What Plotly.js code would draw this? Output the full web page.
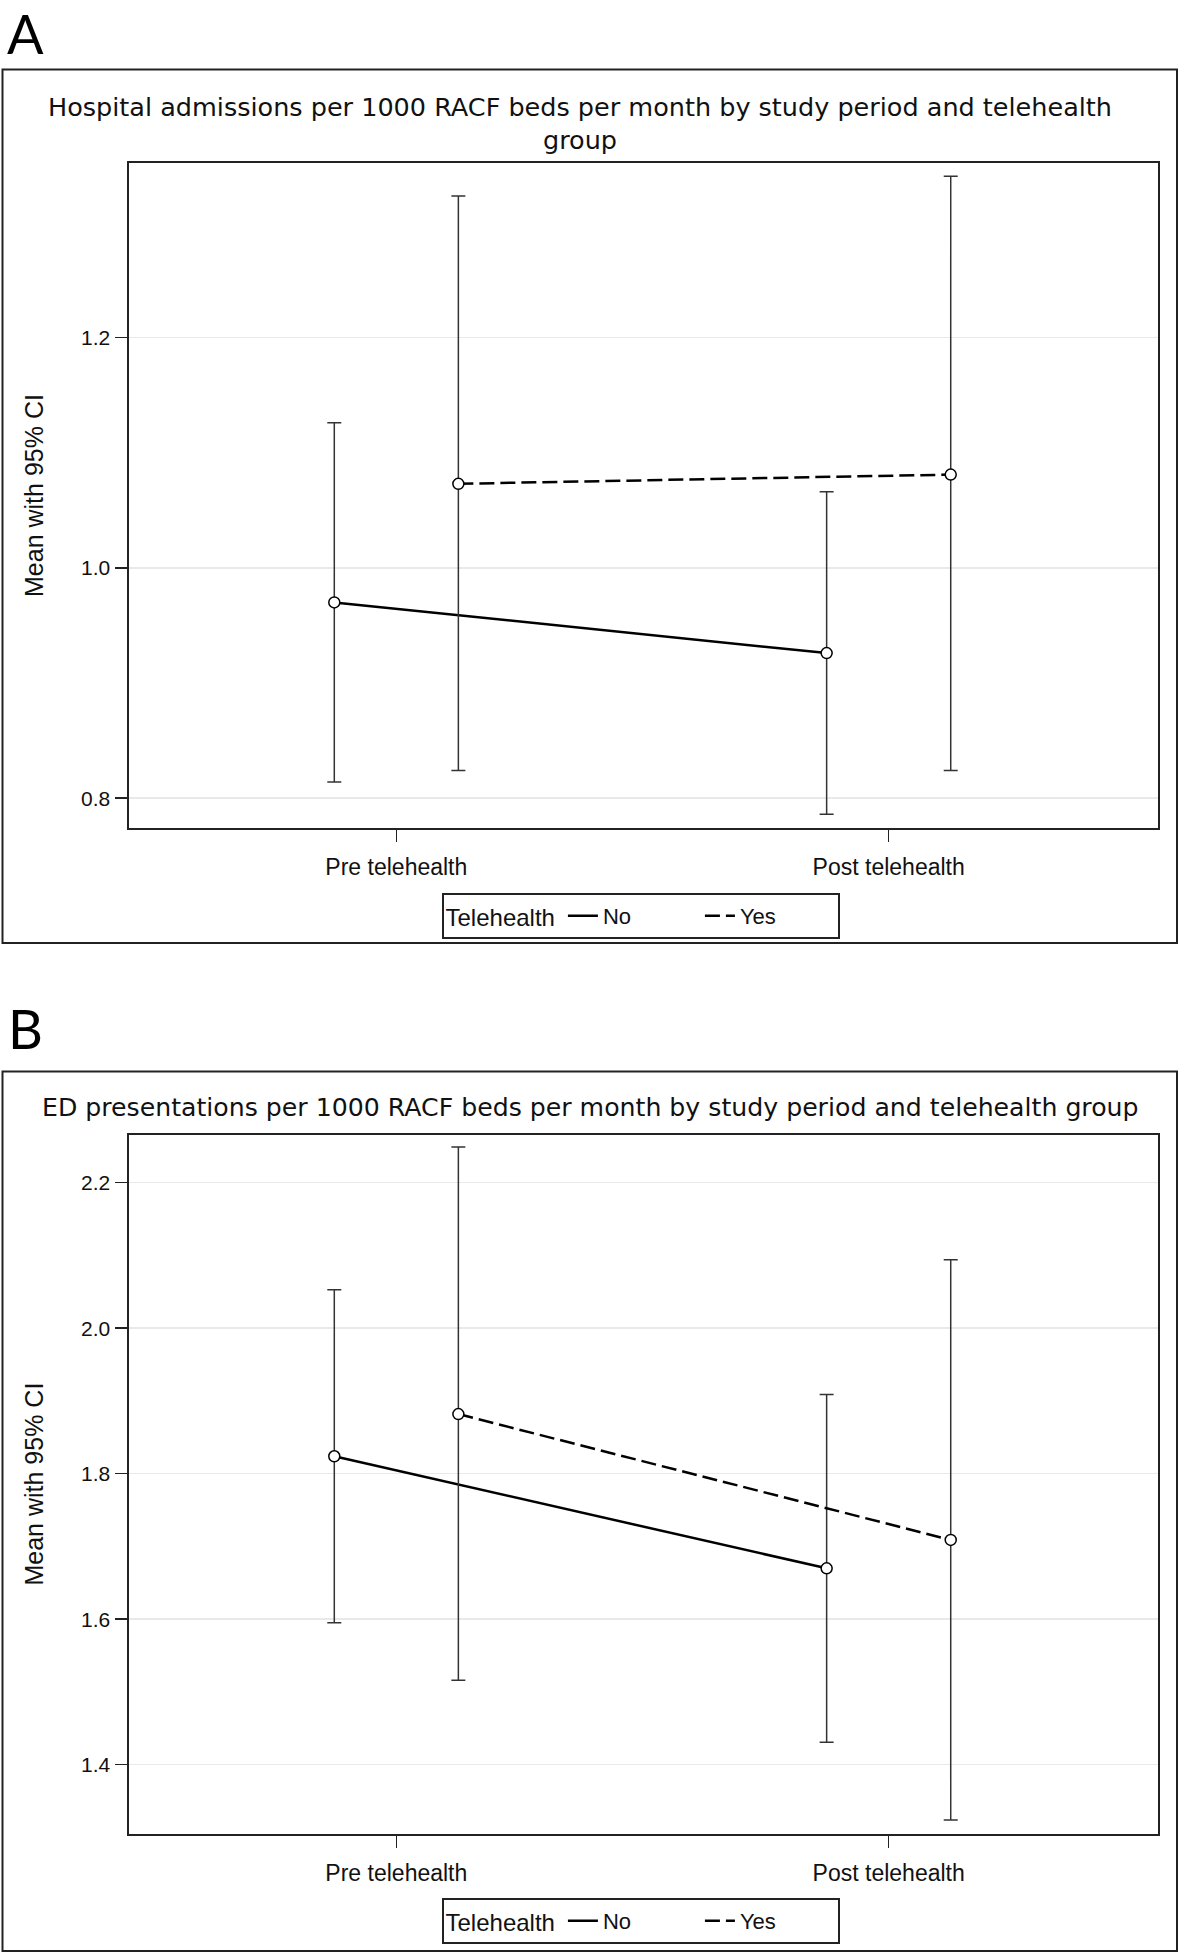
<!DOCTYPE html>
<html><head><meta charset="utf-8">
<script src="https://cdn.plot.ly/plotly-3.0.1.min.js"></script>
<style>html,body{margin:0;padding:0;background:#fff}#chart{width:1180px;height:1956px}</style>
</head><body><div id="chart"></div>
<script>
// ---- data ----
const categories = ['Pre telehealth', 'Post telehealth'];
const groupNames = ['No', 'Yes'];
const legendTitle = 'Telehealth';
const yAxisTitle = 'Mean with 95% CI';
const titleA = 'Hospital admissions per 1000 RACF beds per month by study period and telehealth<br>group';
const titleB = 'ED presentations per 1000 RACF beds per month by study period and telehealth group';
const panelLabels = ['A', 'B'];

// Panel A: hospital admissions
const admNoMean  = [0.970, 0.926];
const admNoLower = [0.814, 0.786];
const admNoUpper = [1.126, 1.066];
const admYesMean  = [1.073, 1.081];
const admYesLower = [0.824, 0.824];
const admYesUpper = [1.323, 1.340];

// Panel B: ED presentations
const edNoMean  = [1.824, 1.670];
const edNoLower = [1.595, 1.431];
const edNoUpper = [2.053, 1.909];
const edYesMean  = [1.882, 1.709];
const edYesLower = [1.516, 1.324];
const edYesUpper = [2.249, 2.094];

// ---- layout helpers ----
const W = 1180, H = 1956;
const px = x => x / W;
const py = y => 1 - y / H;
const dodge = 0.126;
const ink = '#222';
const sans = 'Liberation Sans, Arial, sans-serif';
const wide = 'DejaVu Sans, sans-serif';
const dashed = '15px,6px';

function xPos(sign) { return categories.map((c, i) => i + sign * dodge); }

// line trace (shown in legend) + marker/error-bar trace (hidden from legend)
function makeTraces(mean, lo, hi, sign, name, dash, xa, ya, leg) {
  const lineTrace = {
    type: 'scatter', mode: 'lines', x: xPos(sign), y: mean, name: name,
    xaxis: xa, yaxis: ya, legend: leg, showlegend: true,
    line: {color: '#000', width: 2.5, dash: dash}, hoverinfo: 'skip'
  };
  const pointTrace = {
    type: 'scatter', mode: 'markers', x: xPos(sign), y: mean, name: name,
    xaxis: xa, yaxis: ya, legend: leg, showlegend: false,
    marker: {symbol: 'circle', size: 11, color: '#fff', line: {color: '#000', width: 1.5}},
    error_y: {type: 'data', symmetric: false,
      array: hi.map((v, i) => v - mean[i]),
      arrayminus: lo.map((v, i) => mean[i] - v),
      color: '#333', thickness: 1.5, width: 7},
    hoverinfo: 'skip'
  };
  return [lineTrace, pointTrace];
}

const data = [].concat(
  makeTraces(admNoMean, admNoLower, admNoUpper, -1, groupNames[0], 'solid', 'x', 'y', 'legend'),
  makeTraces(admYesMean, admYesLower, admYesUpper, 1, groupNames[1], dashed, 'x', 'y', 'legend'),
  makeTraces(edNoMean, edNoLower, edNoUpper, -1, groupNames[0], 'solid', 'x2', 'y2', 'legend2'),
  makeTraces(edYesMean, edYesLower, edYesUpper, 1, groupNames[1], dashed, 'x2', 'y2', 'legend2')
);

function xAxis(anchor) {
  return {
    domain: [px(128.5), px(1157.5)], range: [-0.544, 1.546], anchor: anchor,
    tickvals: categories.map((c, i) => i), ticktext: categories,
    showgrid: false, zeroline: false, showline: true, mirror: true,
    linecolor: ink, linewidth: 2, ticks: 'outside', ticklen: 12, tickwidth: 1.5, tickcolor: ink,
    tickfont: {family: sans, size: 23, color: '#111'}, ticklabelstandoff: 6,
    automargin: false, fixedrange: true
  };
}
function yAxis(anchor, dom, rng) {
  return {
    domain: dom, range: rng, anchor: anchor, dtick: 0.2, tick0: 0, tickformat: '.1f',
    showgrid: true, gridcolor: '#e9e9e9', gridwidth: 1.5, zeroline: false,
    showline: true, mirror: true, linecolor: ink, linewidth: 2,
    ticks: 'outside', ticklen: 12, tickwidth: 1.5, tickcolor: ink,
    tickfont: {family: sans, size: 21, color: '#111'},
    title: {text: yAxisTitle, font: {family: sans, size: 25, color: '#111'}, standoff: 30},
    automargin: false, fixedrange: true
  };
}
function legendBox(topPx) {
  return {
    orientation: 'h', x: px(640.5), xanchor: 'center', y: py(topPx), yanchor: 'top',
    bordercolor: ink, borderwidth: 2, bgcolor: '#fff',
    font: {family: sans, size: 22, color: '#111'},
    title: {text: legendTitle, side: 'left', font: {family: sans, size: 24, color: '#111'}},
    itemwidth: 30, entrywidth: 92, valign: 'middle'
  };
}

const layout = {
  width: W, height: H, margin: {l: 0, r: 0, t: 0, b: 0},
  paper_bgcolor: '#fff', plot_bgcolor: '#fff', showlegend: true,
  xaxis: xAxis('y'),
  yaxis: yAxis('x', [py(827.7), py(163.4)], [0.7744, 1.3512]),
  xaxis2: xAxis('y2'),
  yaxis2: yAxis('x2', [py(1833.7), py(1134.5)], [1.3052, 2.2663]),
  legend: legendBox(893),
  legend2: legendBox(1898),
  shapes: [
    {type: 'rect', xref: 'paper', yref: 'paper', x0: px(2.5), x1: px(1177), y0: py(943), y1: py(69.5),
     line: {color: ink, width: 2}},
    {type: 'rect', xref: 'paper', yref: 'paper', x0: px(2.5), x1: px(1177), y0: py(1951), y1: py(1071.5),
     line: {color: ink, width: 2}}
  ],
  annotations: [
    {text: panelLabels[0], xref: 'paper', yref: 'paper', x: px(6), y: 1, xanchor: 'left', yanchor: 'top',
     borderpad: 0, showarrow: false, font: {family: 'Lato, sans-serif', size: 54, color: '#000'}},
    {text: panelLabels[1], xref: 'paper', yref: 'paper', x: px(6), y: py(1028), xanchor: 'left', yanchor: 'middle',
     showarrow: false, font: {family: 'Lato, sans-serif', size: 54, color: '#000'}},
    {text: titleA, xref: 'paper', yref: 'paper', x: px(580), y: py(123.5), xanchor: 'center', yanchor: 'middle',
     showarrow: false, font: {family: wide, size: 25.5, color: '#111'}},
    {text: titleB, xref: 'paper', yref: 'paper', x: 0.5, y: py(1107), xanchor: 'center', yanchor: 'middle',
     showarrow: false, font: {family: wide, size: 25.2, color: '#111'}}
  ]
};

Plotly.newPlot('chart', data, layout, {staticPlot: true, displayModeBar: false});
</script></body></html>
